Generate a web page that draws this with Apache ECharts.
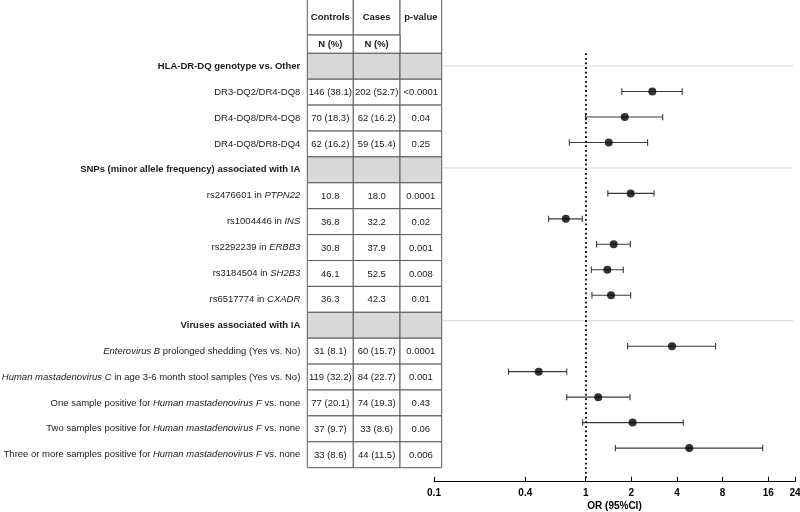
<!DOCTYPE html>
<html>
<head>
<meta charset="utf-8">
<script src="https://cdn.jsdelivr.net/npm/echarts@6/dist/echarts.min.js"></script>
<style>html,body{margin:0;padding:0;background:#fff}#c{width:800px;height:512px}</style>
</head>
<body>
<div id="c"></div>
<script>
// ---- data ----
const rowLabels = [
  '**HLA-DR-DQ genotype vs. Other**',
  'DR3-DQ2/DR4-DQ8',
  'DR4-DQ8/DR4-DQ8',
  'DR4-DQ8/DR8-DQ4',
  '**SNPs (minor allele frequency) associated with IA**',
  'rs2476601 in _PTPN22_',
  'rs1004446 in _INS_',
  'rs2292239 in _ERBB3_',
  'rs3184504 in _SH2B3_',
  'rs6517774 in _CXADR_',
  '**Viruses associated with IA**',
  '_Enterovirus B_ prolonged shedding (Yes vs. No)',
  '_Human mastadenovirus C_ in age 3-6 month stool samples (Yes vs. No)',
  'One sample positive for _Human mastadenovirus F_ vs. none',
  'Two samples positive for _Human mastadenovirus F_ vs. none',
  'Three or more samples positive for _Human mastadenovirus F_ vs. none'
];
const headerRows = [0, 4, 10];
const controls = ['', '146 (38.1)', '70 (18.3)', '62 (16.2)', '', '10.8', '36.8', '30.8', '46.1', '36.3', '', '31 (8.1)', '119 (32.2)', '77 (20.1)', '37 (9.7)', '33 (8.6)'];
const cases = ['', '202 (52.7)', '62 (16.2)', '59 (15.4)', '', '18.0', '32.2', '37.9', '52.5', '42.3', '', '60 (15.7)', '84 (22.7)', '74 (19.3)', '33 (8.6)', '44 (11.5)'];
const pValues = ['', '<0.0001', '0.04', '0.25', '', '0.0001', '0.02', '0.001', '0.008', '0.01', '', '0.0001', '0.001', '0.43', '0.06', '0.006'];
const oddsRatio = [null, 2.75, 1.81, 1.42, null, 1.98, 0.74, 1.53, 1.39, 1.47, null, 3.71, 0.49, 1.21, 2.04, 4.82];
const ciLow = [null, 1.73, 1.00, 0.78, null, 1.40, 0.57, 1.18, 1.09, 1.10, null, 1.89, 0.31, 0.75, 0.955, 1.57];
const ciHigh = [null, 4.33, 3.22, 2.56, null, 2.82, 0.95, 1.97, 1.77, 1.98, null, 7.19, 0.75, 1.96, 4.40, 14.7];
const xTicks = [0.1, 0.4, 1, 2, 4, 8, 16, 24];
const tableHeader = ['Controls', 'Cases', 'p-value'];
const tableSubHeader = ['N (%)', 'N (%)'];

// ---- layout constants ----
const colEdges = [0, 46, 92.7, 134.4];
const FONT = '"Liberation Sans", Arial, sans-serif';
const FS = 9.5;
const TXT = '#1a1a1a';
const BORDER = '#5a5a5a';
const GRAY = '#d9d9d9';

function toRich(s) {
  if (s.startsWith('**')) return '{b|' + s.slice(2, -2) + '}';
  return s.replace(/_([^_]+)_/g, '{i|$1}');
}

const tableColumns = [controls, cases, pValues];
const cellData = [];
rowLabels.forEach((_, r) => { for (let c = 0; c < 3; c++) cellData.push([c, r]); });

const pointData = [];
const ciData = [];
rowLabels.forEach((_, i) => {
  if (oddsRatio[i] != null) {
    pointData.push([oddsRatio[i], i]);
    ciData.push([ciLow[i], ciHigh[i], i]);
  }
});

const chart = echarts.init(document.getElementById('c'), null, { renderer: 'canvas' });

const option = {
  animation: false,
  textStyle: { fontFamily: FONT },
  grid: [
    { left: 307.3, top: 53.3, width: 134.4, height: 414.4, outerBoundsMode: 'none', containLabel: false },
    { left: 434, right: 5, top: 53.3, bottom: 30.3, outerBoundsMode: 'none', containLabel: false }
  ],
  xAxis: [
    { gridIndex: 0, type: 'value', min: 0, max: 134.4, show: false },
    {
      gridIndex: 1, type: 'log', logBase: 10, min: 0.1, max: 24, position: 'bottom',
      axisLine: { show: true, onZero: false, lineStyle: { color: '#000', width: 1 } },
      axisTick: { show: true, inside: true, length: 5, customValues: xTicks, lineStyle: { color: '#000' } },
      minorTick: { show: false },
      splitLine: { show: false },
      axisLabel: {
        customValues: xTicks, color: '#000', fontWeight: 'bold', fontSize: 10, margin: 7,
        fontFamily: FONT, hideOverlap: false, formatter: v => String(+(+v).toPrecision(6))
      },
      name: 'OR (95%CI)', nameLocation: 'middle', nameGap: 20, nameMoveOverlap: false,
      nameTextStyle: { color: '#000', fontWeight: 'bold', fontSize: 10, fontFamily: FONT }
    }
  ],
  yAxis: [
    {
      gridIndex: 0, type: 'category', inverse: true, data: rowLabels, boundaryGap: true,
      axisLine: { show: false }, axisTick: { show: false }, splitLine: { show: false },
      axisLabel: {
        interval: 0, margin: 7, fontSize: FS, color: TXT, fontFamily: FONT,
        formatter: v => toRich(v),
        rich: {
          b: { fontWeight: 'bold', fontSize: FS, color: TXT, fontFamily: FONT },
          i: { fontStyle: 'italic', fontSize: FS, color: TXT, fontFamily: FONT }
        }
      }
    },
    { gridIndex: 1, type: 'value', inverse: true, min: -0.5, max: 16.32, show: false }
  ],
  series: [
    // table header cells
    {
      type: 'custom', xAxisIndex: 0, yAxisIndex: 0, z: 5, silent: true,
      data: [[0, 0]],
      renderItem: (params, api) => {
        const cs = params.coordSys;
        const xs = colEdges.map(e => api.coord([e, 0])[0]);
        const top = -2, mid = cs.y - 18.3, bot = cs.y;
        const children = [];
        const st = { fill: '#fff', stroke: BORDER, lineWidth: 1 };
        for (let c = 0; c < 3; c++) {
          const h = c === 2 ? bot - top : mid - top;
          children.push({ type: 'rect', shape: { x: xs[c], y: top, width: xs[c + 1] - xs[c], height: h }, style: st });
          children.push({ type: 'text', x: (xs[c] + xs[c + 1]) / 2, y: 17.5,
            style: { text: tableHeader[c], align: 'center', verticalAlign: 'middle', font: 'bold ' + FS + 'px ' + FONT, fill: TXT } });
        }
        for (let c = 0; c < 2; c++) {
          children.push({ type: 'rect', shape: { x: xs[c], y: mid, width: xs[c + 1] - xs[c], height: bot - mid }, style: st });
          children.push({ type: 'text', x: (xs[c] + xs[c + 1]) / 2, y: (mid + bot) / 2,
            style: { text: tableSubHeader[c], align: 'center', verticalAlign: 'middle', font: 'bold ' + FS + 'px ' + FONT, fill: TXT } });
        }
        return { type: 'group', children };
      }
    },
    // table body cells
    {
      type: 'custom', xAxisIndex: 0, yAxisIndex: 0, z: 5, silent: true,
      data: cellData,
      renderItem: (params, api) => {
        const c = api.value(0), r = api.value(1);
        const band = api.size([0, 1])[1];
        const yc = api.coord([0, r])[1];
        const xL = api.coord([colEdges[c], r])[0];
        const xR = api.coord([colEdges[c + 1], r])[0];
        const isHead = headerRows.indexOf(r) >= 0;
        return {
          type: 'group',
          children: [
            { type: 'rect', shape: { x: xL, y: yc - band / 2, width: xR - xL, height: band },
              style: { fill: isHead ? GRAY : '#fff', stroke: BORDER, lineWidth: 1 } },
            { type: 'text', x: (xL + xR) / 2, y: yc + 0.5,
              style: { text: tableColumns[c][r], align: 'center', verticalAlign: 'middle', font: FS + 'px ' + FONT, fill: TXT } }
          ]
        };
      }
    },
    // section separator lines in forest plot + reference line at OR = 1
    {
      type: 'custom', xAxisIndex: 1, yAxisIndex: 1, z: 1, silent: true,
      data: headerRows.map(r => [1, r]),
      renderItem: (params, api) => {
        const cs = params.coordSys;
        const y = api.coord([1, api.value(1)])[1];
        return { type: 'line', shape: { x1: cs.x, y1: y, x2: cs.x + cs.width - 2, y2: y },
          style: { stroke: '#d6d6d6', lineWidth: 1 } };
      },
      markLine: {
        silent: true, symbol: ['none', 'none'], label: { show: false },
        lineStyle: { color: '#000', type: [1.8, 2.8], width: 1.8 },
        data: [{ xAxis: 1 }]
      }
    },
    // confidence intervals
    {
      type: 'custom', xAxisIndex: 1, yAxisIndex: 1, z: 3, silent: true,
      data: ciData,
      renderItem: (params, api) => {
        const r = api.value(2);
        const p1 = api.coord([api.value(0), r]);
        const p2 = api.coord([api.value(1), r]);
        const cap = 3.2;
        const st = { stroke: '#3a3a3a', lineWidth: 1.1 };
        return {
          type: 'group',
          children: [
            { type: 'line', shape: { x1: p1[0], y1: p1[1], x2: p2[0], y2: p2[1] }, style: st },
            { type: 'line', shape: { x1: p1[0], y1: p1[1] - cap, x2: p1[0], y2: p1[1] + cap }, style: st },
            { type: 'line', shape: { x1: p2[0], y1: p2[1] - cap, x2: p2[0], y2: p2[1] + cap }, style: st }
          ]
        };
      }
    },
    // point estimates
    {
      type: 'scatter', xAxisIndex: 1, yAxisIndex: 1, z: 4, silent: true,
      symbol: 'circle', symbolSize: 8,
      itemStyle: { color: '#000' },
      data: pointData
    }
  ]
};
chart.setOption(option);
</script>
</body>
</html>
